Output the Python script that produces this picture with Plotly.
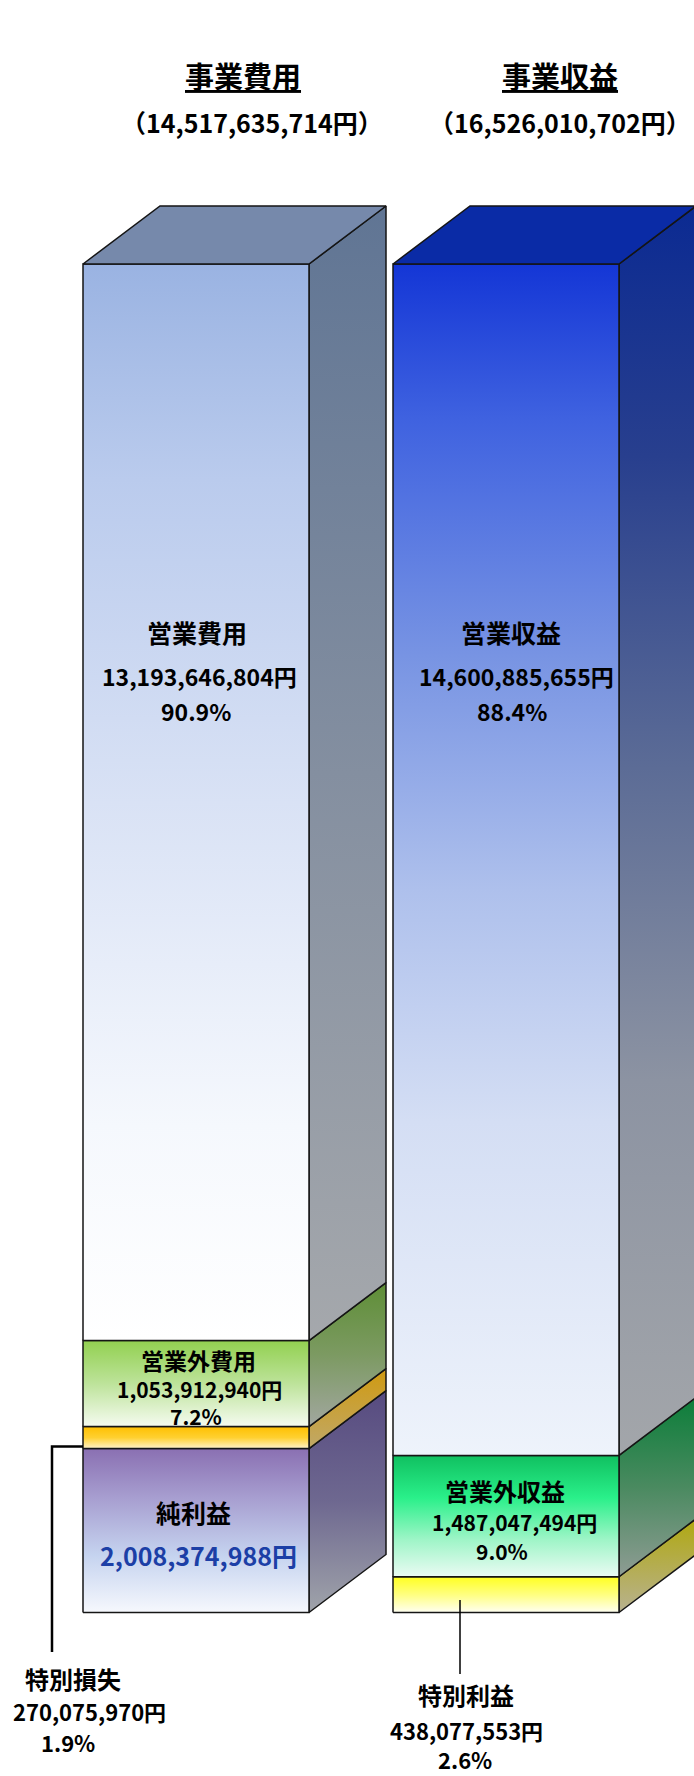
import plotly.graph_objects as go

# ---- data (yen) ----
cost_names = ["純利益", "特別損失", "営業外費用", "営業費用"]          # stacked bottom -> top
cost_values = [2008374988, 270075970, 1053912940, 13193646804]
cost_pcts = [None, 1.9, 7.2, 90.9]
rev_names = ["特別利益", "営業外収益", "営業収益"]                     # stacked bottom -> top
rev_values = [438077553, 1487047494, 14600885655]
rev_pcts = [2.6, 9.0, 88.4]
group_titles = ["事業費用", "事業収益"]
group_totals = [14517635714, 16526010702]

# ---- page geometry ----
W, H = 694, 1776
BAR_LEFT = [83, 393]      # left edge of each front face (x units = px)
BAR_W = 226
DEPTH_X = 77
DEPTH_Y_PX = 58
BASE_PX = 1612.5          # pixel row of the zero line
TOP_PX = 264              # pixel row of the full stack height

stack_total = max(sum(cost_values), sum(rev_values))
k = (BASE_PX - TOP_PX) / stack_total          # px per yen
DEPTH_Y = DEPTH_Y_PX / k


def ydat(p):
    """pixel row -> data value on the y axis"""
    return (BASE_PX - p) / k


EDGE = "#151515"
FONT = "Noto Sans CJK JP"

# front / side gradients, colorscale 0 = bottom, 1 = top
cost_front = [
    [[0, "#F6F8FD"], [0.35, "#C5D3EF"], [0.7, "#A79ED0"], [1, "#8A70B2"]],
    [[0, "#FFF3CC"], [0.5, "#FFD030"], [1, "#FFC000"]],
    [[0, "#F5FBF0"], [0.5, "#BDE39A"], [1, "#92D050"]],
    [[0, "#FFFFFF"], [0.2, "#F5F8FD"], [0.5, "#D9E2F5"], [0.8, "#BACBED"], [1, "#9AB3E2"]],
]
cost_side = [
    [[0, "#A0A4AA"], [0.5, "#6E6890"], [1, "#574B80"]],
    [[0, "#C0A868"], [1, "#D09A10"]],
    [[0, "#A2A7A0"], [0.5, "#7C9A62"], [1, "#5E8E36"]],
    [[0, "#A5A8AC"], [0.5, "#848FA0"], [1, "#607594"]],
]
rev_front = [
    [[0, "#FFFFF2"], [0.5, "#FFFF80"], [1, "#FFFF20"]],
    [[0, "#EAFBF3"], [0.3, "#A0F5C8"], [0.65, "#2AF08A"], [1, "#10C060"]],
    [[0, "#EEF3FB"], [0.28, "#D4DEF4"], [0.475, "#AEC0EC"], [0.67, "#7894E3"],
     [0.87, "#3F62E0"], [1, "#1436D6"]],
]
rev_side = [
    [[0, "#B8B290"], [1, "#B0A810"]],
    [[0, "#8F9C94"], [0.5, "#4A8A60"], [1, "#0C7E3A"]],
    [[0, "#A3A6AA"], [0.3, "#8C93A2"], [0.55, "#5C6C96"], [0.8, "#283F8E"], [1, "#0B2A92"]],
]
top_colors = ["#7689AB", "#0A2BA6"]

fig = go.Figure()


def poly(xs, ys, cs):
    xs = list(xs) + [xs[0]]
    ys = list(ys) + [ys[0]]
    if isinstance(cs, str):
        extra = dict(fillcolor=cs)
    else:
        extra = dict(fillgradient=dict(type="vertical", colorscale=cs))
    fig.add_trace(go.Scatter(
        x=xs, y=ys, mode="lines", fill="toself",
        line=dict(color=EDGE, width=1.5),
        hoverinfo="skip", showlegend=False, **extra))


def draw_stack(xl, values, fronts, sides, top_color):
    xr = xl + BAR_W
    y0 = 0
    for v, fc, sc in zip(values, fronts, sides):
        y1 = y0 + v
        poly([xr, xr + DEPTH_X, xr + DEPTH_X, xr],
             [y0, y0 + DEPTH_Y, y1 + DEPTH_Y, y1], sc)
        poly([xl, xr, xr, xl], [y0, y0, y1, y1], fc)
        y0 = y1
    poly([xl, xr, xr + DEPTH_X, xl + DEPTH_X],
         [y0, y0, y0 + DEPTH_Y, y0 + DEPTH_Y], top_color)


draw_stack(BAR_LEFT[0], cost_values, cost_front, cost_side, top_colors[0])
draw_stack(BAR_LEFT[1], rev_values, rev_front, rev_side, top_colors[1])

# leader lines for the thin bands
loss_y = cost_values[0] + 0.1 * cost_values[1]
fig.add_trace(go.Scatter(
    x=[BAR_LEFT[0], 52, 52], y=[loss_y, loss_y, ydat(1652)],
    mode="lines", line=dict(color="#000000", width=2.5),
    hoverinfo="skip", showlegend=False))
gain_y = 0.35 * rev_values[0]
fig.add_trace(go.Scatter(
    x=[460, 460], y=[gain_y, ydat(1674)],
    mode="lines", line=dict(color="#000000", width=1.5),
    hoverinfo="skip", showlegend=False))


def label(text, x, py, size=23, color="#000000", underline=False):
    font = dict(family=FONT, size=size, color=color, weight="bold")
    if underline:
        font["lineposition"] = "under"
    fig.add_annotation(x=x, y=ydat(py), xref="x", yref="y", text=text,
                       showarrow=False, font=font, borderpad=0,
                       xanchor="center", yanchor="middle")


def yen(v):
    return f"{v:,}円"


# headings
for title, total, cx, cx2 in zip(group_titles, group_totals, [243, 560], [252, 560]):
    label(title, cx, 75, size=29, underline=True)
    label(f"（{total:,}円）", cx2, 122, size=25)

# cost side labels
label(cost_names[3], 197, 632, size=25)
label(yen(cost_values[3]), 199, 676)
label(f"{cost_pcts[3]}%", 196, 711)

label(cost_names[2], 198, 1360, size=23)
label(yen(cost_values[2]), 199, 1389, size=21)
label(f"{cost_pcts[2]}%", 196, 1416, size=21)

label(cost_names[0], 193, 1512, size=25)
label(yen(cost_values[0]), 198, 1555, size=25, color="#1C3FA6")

label(cost_names[1], 73, 1678, size=24)
label(yen(cost_values[1]), 89, 1711, size=22)
label(f"{cost_pcts[1]}%", 68, 1742, size=22)

# revenue side labels
label(rev_names[2], 511, 632, size=25)
label(yen(rev_values[2]), 516, 676)
label(f"{rev_pcts[2]}%", 512, 711)

label(rev_names[1], 505, 1490, size=24)
label(yen(rev_values[1]), 514, 1522, size=21)
label(f"{rev_pcts[1]}%", 502, 1551, size=21)

label(rev_names[0], 466, 1694, size=24)
label(yen(rev_values[0]), 466, 1730, size=22)
label(f"{rev_pcts[0]}%", 465, 1759, size=22)

fig.update_layout(
    width=W, height=H,
    margin=dict(l=0, r=0, t=0, b=0),
    paper_bgcolor="#FFFFFF", plot_bgcolor="#FFFFFF",
    xaxis=dict(range=[0, W], visible=False, fixedrange=True),
    yaxis=dict(range=[ydat(H), ydat(0)], visible=False, fixedrange=True),
    showlegend=False,
)

fig.write_html("out.html", config={"displayModeBar": False})
